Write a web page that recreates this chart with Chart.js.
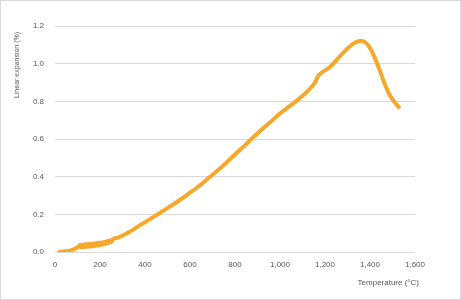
<!DOCTYPE html>
<html>
<head>
<meta charset="utf-8">
<script src="https://cdn.jsdelivr.net/npm/chart.js@4/dist/chart.umd.min.js"></script>
<style>
  html, body { margin: 0; padding: 0; background: #fff; }
  #wrap { width: 461px; height: 300px; }
</style>
</head>
<body>
<div id="wrap"><canvas id="chart" width="461" height="300"></canvas></div>
<script>
// Temperature (°C) and linear expansion (%)
// (the 110-260 °C stretch is noisy in the original, so it zig-zags a little)
const temps = [13, 40, 60, 80, 95, 105,
  112, 118, 124, 130, 136, 142, 148, 154, 160, 166, 172, 178, 184, 190, 196, 202, 208, 214, 220, 226, 232, 238, 244, 250, 258,
  280, 300, 320, 350, 378, 400, 450, 500, 555, 600, 650, 676, 720, 760, 800, 850, 880, 920, 960, 1000, 1040,
  1089, 1120, 1156, 1170, 1185, 1222, 1280, 1324, 1345, 1360, 1375, 1390, 1405, 1420, 1440, 1460, 1480, 1500, 1520, 1533];
const expansion = [0.0, 0.003, 0.006, 0.013, 0.022, 0.028,
  0.038, 0.024, 0.040, 0.025, 0.042, 0.026, 0.043, 0.027, 0.044, 0.029, 0.046, 0.031, 0.048, 0.033, 0.050, 0.036, 0.052, 0.039, 0.055, 0.043, 0.058, 0.047, 0.062, 0.053, 0.068,
  0.076, 0.088, 0.100, 0.120, 0.143, 0.158, 0.195, 0.233, 0.276, 0.315, 0.360, 0.386, 0.430, 0.473, 0.518, 0.573, 0.608, 0.652, 0.693, 0.735, 0.772,
  0.818, 0.852, 0.900, 0.935, 0.952, 0.982, 1.057, 1.105, 1.118, 1.121, 1.116, 1.100, 1.072, 1.035, 0.975, 0.910, 0.852, 0.810, 0.780, 0.762];
const xTicks = [0, 200, 400, 600, 800, 1000, 1200, 1400, 1600];
const yTicks = [0.0, 0.2, 0.4, 0.6, 0.8, 1.0, 1.2];

const TICK_COLOR = '#595959';
const GRID_COLOR = '#D9D9D9';
const LINE_COLOR = '#F5A82A';

// Axis titles and the outer chart border, placed like the original
const decorations = {
  id: 'decorations',
  afterDraw(chart) {
    const c = chart.ctx;
    c.save();
    c.fillStyle = TICK_COLOR;
    c.textBaseline = 'middle';
    c.font = '8px "Liberation Sans", Arial, sans-serif';
    c.textAlign = 'right';
    c.fillText('Temperature (°C)', 419, 283);
    c.font = '7px "Liberation Sans", Arial, sans-serif';
    c.translate(17, 65);
    c.rotate(-Math.PI / 2);
    c.textAlign = 'center';
    c.fillText('Linear expansion (%)', 0, 0);
    c.restore();
    c.save();
    c.strokeStyle = GRID_COLOR;
    c.lineWidth = 1;
    c.strokeRect(0.5, 0.5, chart.width - 1, chart.height - 1);
    c.restore();
  }
};

new Chart(document.getElementById('chart'), {
  type: 'scatter',
  data: {
    datasets: [{
      data: temps.map((t, i) => ({ x: t, y: expansion[i] })),
      showLine: true,
      borderColor: LINE_COLOR,
      backgroundColor: LINE_COLOR,
      borderWidth: 4,
      pointRadius: 0,
      cubicInterpolationMode: 'monotone'
    }]
  },
  options: {
    responsive: false,
    animation: false,
    layout: { padding: { top: 26, right: 46, bottom: 0, left: 0 } },
    plugins: { legend: { display: false }, tooltip: { enabled: false } },
    scales: {
      x: {
        type: 'linear',
        min: 0, max: 1600,
        afterBuildTicks: s => { s.ticks = xTicks.map(v => ({ value: v })); },
        afterFit: s => { s.height = 48; },
        grid: { display: false, drawTicks: false },
        border: { display: false },
        ticks: {
          color: TICK_COLOR,
          font: { family: '"Liberation Sans", Arial, sans-serif', size: 8 },
          padding: 8,
          maxRotation: 0,
          callback: v => v.toLocaleString('en-US')
        }
      },
      y: {
        min: 0, max: 1.2,
        afterBuildTicks: s => { s.ticks = yTicks.map(v => ({ value: v })); },
        afterFit: s => { s.width = 55; },
        grid: { color: GRID_COLOR, lineWidth: 1, drawTicks: false },
        border: { display: false },
        ticks: {
          color: TICK_COLOR,
          font: { family: '"Liberation Sans", Arial, sans-serif', size: 8 },
          padding: 11,
          callback: v => v.toFixed(1)
        }
      }
    }
  },
  plugins: [decorations]
});
</script>
</body>
</html>
